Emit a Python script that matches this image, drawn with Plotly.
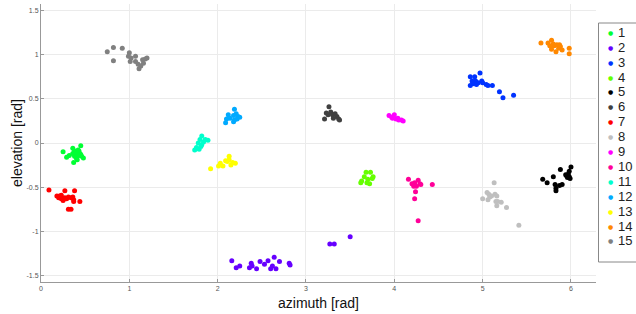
import plotly.graph_objects as go

names = [str(i) for i in range(1, 16)]
colors = ["#00FF33", "#6600FF", "#0033FF", "#66FF00", "#000000", "#404040", "#FF0000",
          "#BFBFBF", "#FF00FF", "#FF0099", "#00FFCC", "#00AAFF", "#FFFF00", "#FF8800", "#808080"]

az1 = [0.25, 0.36, 0.45, 0.29, 0.32, 0.38, 0.40, 0.42, 0.44, 0.38, 0.40, 0.43, 0.46, 0.48, 0.37, 0.36, 0.41, 0.43, 0.39, 0.45]
el1 = [-0.10, -0.06, -0.03, -0.16, -0.14, -0.09, -0.11, -0.08, -0.12, -0.15, -0.17, -0.14, -0.15, -0.17, -0.22, -0.12, -0.19, -0.09, -0.12, -0.13]

az2 = [2.16, 2.21, 2.25, 2.36, 2.38, 2.39, 2.44, 2.48, 2.53, 2.57, 2.60, 2.64, 2.62, 2.66, 2.70, 2.81, 2.82, 3.27, 3.32, 3.50]
el2 = [-1.33, -1.41, -1.39, -1.41, -1.36, -1.39, -1.42, -1.34, -1.37, -1.33, -1.42, -1.29, -1.39, -1.42, -1.34, -1.36, -1.38, -1.14, -1.14, -1.06]

az3 = [4.86, 4.91, 4.97, 4.88, 4.92, 4.95, 4.86, 4.89, 4.99, 5.00, 5.04, 5.06, 5.11, 5.19, 5.23, 5.35, 4.93]
el3 = [0.75, 0.75, 0.79, 0.70, 0.70, 0.68, 0.65, 0.67, 0.70, 0.68, 0.66, 0.65, 0.65, 0.58, 0.51, 0.54, 0.66]

az4 = [3.68, 3.73, 3.66, 3.76, 3.63, 3.70, 3.72, 3.69, 3.62, 3.75]
el4 = [-0.33, -0.33, -0.38, -0.38, -0.43, -0.41, -0.46, -0.45, -0.45, -0.40]

az5 = [5.68, 5.73, 5.80, 5.88, 5.82, 5.83, 5.83, 5.87, 5.90, 5.95, 5.97, 5.98, 6.00, 5.98, 5.99, 5.96, 5.94]
el5 = [-0.41, -0.45, -0.38, -0.30, -0.47, -0.51, -0.54, -0.48, -0.47, -0.37, -0.35, -0.32, -0.27, -0.38, -0.40, -0.39, -0.36]

az6 = [3.26, 3.21, 3.23, 3.28, 3.30, 3.33, 3.35, 3.37, 3.38, 3.31, 3.25]
el6 = [0.41, 0.27, 0.34, 0.35, 0.32, 0.33, 0.30, 0.27, 0.26, 0.28, 0.32]

az7 = [0.09, 0.27, 0.38, 0.18, 0.21, 0.22, 0.23, 0.25, 0.27, 0.29, 0.31, 0.34, 0.36, 0.37, 0.44, 0.37, 0.25, 0.20, 0.31, 0.34, 0.23]
el7 = [-0.53, -0.54, -0.54, -0.60, -0.60, -0.61, -0.63, -0.64, -0.62, -0.63, -0.61, -0.62, -0.61, -0.64, -0.66, -0.66, -0.65, -0.62, -0.75, -0.75, -0.59]

az8 = [5.13, 5.00, 5.05, 5.07, 5.06, 5.10, 5.14, 5.16, 5.15, 5.17, 5.21, 5.16, 5.27, 5.41, 5.08]
el8 = [-0.45, -0.63, -0.56, -0.58, -0.64, -0.60, -0.58, -0.60, -0.66, -0.66, -0.67, -0.71, -0.73, -0.93, -0.61]

az9 = [3.94, 3.97, 4.00, 4.02, 4.05, 4.08, 4.10, 3.98, 4.04]
el9 = [0.31, 0.29, 0.32, 0.27, 0.26, 0.26, 0.25, 0.28, 0.28]

az10 = [4.16, 4.20, 4.23, 4.27, 4.29, 4.25, 4.22, 4.43, 4.24, 4.23, 4.27, 4.30]
el10 = [-0.41, -0.46, -0.45, -0.42, -0.46, -0.49, -0.49, -0.47, -0.55, -0.63, -0.88, -0.47]

az11 = [1.82, 1.80, 1.86, 1.89, 1.78, 1.82, 1.76, 1.74, 1.79, 1.81, 1.84]
el11 = [0.08, 0.04, 0.04, 0.03, 0.00, -0.02, -0.05, -0.08, -0.07, -0.04, 0.01]

az12 = [2.19, 2.12, 2.10, 2.09, 2.18, 2.21, 2.23, 2.25, 2.19, 2.22, 2.18, 2.14]
el12 = [0.38, 0.32, 0.27, 0.23, 0.31, 0.33, 0.30, 0.29, 0.26, 0.27, 0.24, 0.28]

az13 = [1.92, 2.01, 2.03, 2.06, 2.09, 2.13, 2.11, 2.15, 2.17, 2.20, 2.13]
el13 = [-0.29, -0.26, -0.23, -0.26, -0.20, -0.15, -0.21, -0.25, -0.22, -0.23, -0.19]

az14 = [5.66, 5.74, 5.78, 5.80, 5.81, 5.84, 5.87, 5.78, 5.83, 5.86, 5.90, 5.88, 5.98, 5.98, 5.76]
el14 = [1.13, 1.13, 1.16, 1.12, 1.10, 1.11, 1.11, 1.06, 1.03, 1.07, 1.05, 1.09, 1.07, 1.01, 1.10]

az15 = [0.75, 0.82, 0.92, 0.82, 1.00, 0.99, 1.01, 1.07, 1.07, 1.10, 1.11, 1.13, 1.15, 1.18, 1.20, 1.16, 1.02]
el15 = [1.03, 1.08, 1.07, 0.93, 1.02, 0.98, 0.92, 0.98, 0.92, 0.89, 0.84, 0.87, 0.94, 0.95, 0.96, 0.90, 0.96]

azimuths = [az1, az2, az3, az4, az5, az6, az7, az8, az9, az10, az11, az12, az13, az14, az15]
elevations = [el1, el2, el3, el4, el5, el6, el7, el8, el9, el10, el11, el12, el13, el14, el15]

x_ticks = [0, 1, 2, 3, 4, 5, 6]
y_ticks = [-1.5, -1, -0.5, 0, 0.5, 1, 1.5]

fig = go.Figure()
for name, col, az, el in zip(names, colors, azimuths, elevations):
    fig.add_trace(go.Scatter(x=az, y=el, mode="markers", name=name, showlegend=False,
                             marker=dict(color=col, size=5, line=dict(width=0))))

# Compact legend (MATLAB style) built from names/colors
W, H = 636, 314
ml, mr, mt, mb = 41, 40, 4, 32
pw, ph = W - ml - mr, H - mt - mb

def px_x(p):
    return (p - ml) / pw

def px_y(p):
    return (H - mb - p) / ph

top_item, step = 32.3, 14.9
for i, (name, col) in enumerate(zip(names, colors)):
    yy = px_y(top_item + i * step)
    fig.add_annotation(x=px_x(610), y=yy, xref="paper", yref="paper", text="●",
                       showarrow=False, font=dict(size=6, color=col, family="DejaVu Sans"),
                       xanchor="center", yanchor="middle")
    fig.add_annotation(x=px_x(617), y=yy, xref="paper", yref="paper", text=name,
                       showarrow=False, font=dict(size=13, color="#222", family="Liberation Sans"),
                       xanchor="left", yanchor="middle", borderpad=0)
fig.add_shape(type="rect", xref="paper", yref="paper",
              x0=px_x(598.5), x1=px_x(640), y0=px_y(23), y1=px_y(262),
              line=dict(color="#888", width=1), fillcolor="white", layer="below")

# axis titles
fig.add_annotation(x=0.5, y=px_y(303), xref="paper", yref="paper", text="azimuth [rad]",
                   showarrow=False, font=dict(size=14, color="#111", family="Liberation Sans"),
                   xanchor="center", yanchor="middle")
fig.add_annotation(x=px_x(17), y=px_y(143), xref="paper", yref="paper", text="elevation [rad]",
                   showarrow=False, textangle=-90,
                   font=dict(size=14, color="#111", family="Liberation Sans"),
                   xanchor="center", yanchor="middle")

axis_common = dict(showgrid=True, gridcolor="#ebebeb", gridwidth=1, zeroline=False,
                   showline=True, linecolor="#999", linewidth=1, ticks="inside",
                   ticklen=3, tickcolor="#999", automargin=False,
                   tickfont=dict(size=7, color="#555", family="Liberation Sans"))

fig.update_layout(
    width=W, height=H,
    margin=dict(l=ml, r=mr, t=mt, b=mb, autoexpand=False),
    paper_bgcolor="white", plot_bgcolor="white",
    xaxis=dict(range=[0, 6.2832], tickvals=x_ticks, ticktext=[str(t) for t in x_ticks], **axis_common),
    yaxis=dict(range=[-1.5708, 1.5708], tickvals=y_ticks, ticktext=[f"{t:g}" for t in y_ticks], **axis_common),
    showlegend=False,
)

fig.write_html("out.html", config={"displayModeBar": False},
               post_script="document.body.style.margin='0';document.body.style.padding='0';"
                           "document.documentElement.style.overflow='hidden';")
